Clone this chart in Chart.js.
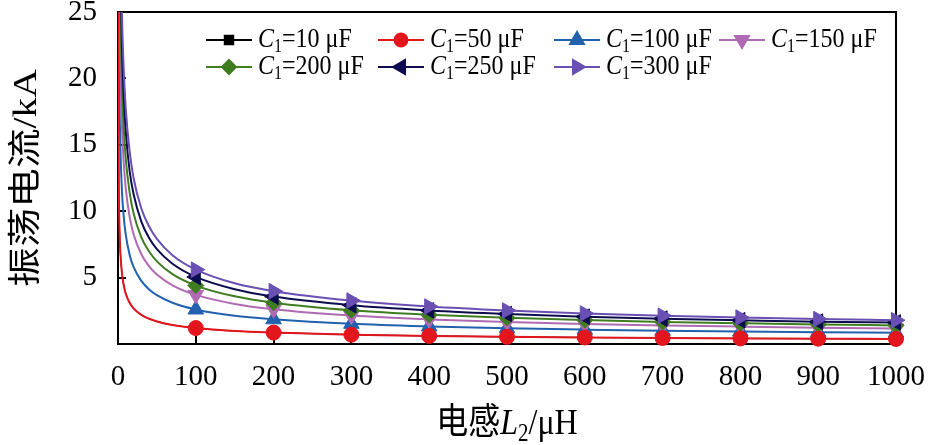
<!DOCTYPE html>
<html>
<head>
<meta charset="utf-8">
<script src="https://cdn.jsdelivr.net/npm/chart.js@4"></script>
<style>
  html, body { margin: 0; background: #fff; }
  #wrap { width: 928px; height: 445px; }
</style>
</head>
<body>
<div id="wrap"><canvas id="chart"></canvas></div>
<script>
// inductance L2 (uH) and oscillation current (kA) per capacitor C1
const inductance = [0.1, 0.3, 0.5, 1, 2, 3, 5, 7, 10, 15, 20, 30, 40, 50, 70, 100, 150, 200, 300, 400, 500, 600, 700, 800, 900, 1000];
const capacitance = [10, 50, 100, 150, 200, 250, 300];

const i10  = [37.9, 21.9, 17.0, 12.0, 8.49, 6.93, 5.37, 4.54, 3.79, 3.10, 2.68, 2.19, 1.90, 1.70, 1.43, 1.20, 0.98, 0.86, 0.70, 0.61, 0.54, 0.49, 0.45, 0.42, 0.40, 0.38];
const i50  = [37.9, 21.9, 17.0, 12.0, 8.49, 6.93, 5.37, 4.54, 3.79, 3.10, 2.68, 2.19, 1.90, 1.70, 1.43, 1.20, 0.98, 0.86, 0.70, 0.61, 0.54, 0.49, 0.45, 0.42, 0.40, 0.38];
const i100 = [82.2, 47.5, 36.8, 26.0, 18.4, 15.0, 11.6, 9.83, 8.22, 6.71, 5.81, 4.75, 4.11, 3.68, 3.11, 2.60, 2.12, 1.86, 1.52, 1.32, 1.18, 1.08, 1.00, 0.94, 0.89, 0.85];
const i150 = [117, 67.6, 52.3, 37.0, 26.2, 21.4, 16.5, 14.0, 11.7, 9.55, 8.27, 6.76, 5.85, 5.23, 4.42, 3.70, 3.02, 2.62, 2.14, 1.85, 1.65, 1.51, 1.40, 1.31, 1.23, 1.17];
const i200 = [139, 80.3, 62.2, 44.0, 31.1, 25.4, 19.7, 16.6, 13.9, 11.4, 9.84, 8.03, 6.96, 6.22, 5.26, 4.40, 3.59, 3.11, 2.54, 2.20, 1.97, 1.80, 1.66, 1.56, 1.47, 1.40];
const i250 = [160, 92.2, 71.4, 50.5, 35.7, 29.2, 22.6, 19.1, 16.0, 13.0, 11.3, 9.22, 7.98, 7.14, 6.04, 5.05, 4.12, 3.57, 2.92, 2.53, 2.26, 2.06, 1.91, 1.79, 1.68, 1.62];
const i300 = [177, 102, 79.2, 56.0, 39.6, 32.3, 25.0, 21.2, 17.7, 14.5, 12.5, 10.2, 8.85, 7.92, 6.69, 5.60, 4.57, 3.98, 3.27, 2.82, 2.52, 2.30, 2.13, 1.99, 1.88, 1.79];

const xTicks = [0, 100, 200, 300, 400, 500, 600, 700, 800, 900, 1000];
const yTicks = [5, 10, 15, 20, 25];
const markerAt = [100, 200, 300, 400, 500, 600, 700, 800, 900, 1000];

const series = [i10, i50, i100, i150, i200, i250, i300];

// styles
const colors = ['#000000', '#e3151d', '#2161ad', '#b06ab4', '#3f7d20', '#0c0c4e', '#6a50b3'];
const shapes = ['rect', 'circle', 'triangle', 'triangle', 'rectRot', 'triangle', 'triangle'];
const turns  = [0, 0, 0, 180, 0, -90, 90];
const sizes  = [7, 7.5, 9, 9, 8, 9, 9];
const widths = [1.2, 2, 2, 2, 2, 2, 2];
const orders = [9, 1, 6, 5, 4, 3, 2];

const SERIF = '"Liberation Serif", "Times New Roman", "Noto Sans CJK SC", serif';

const datasets = series.map((vals, k) => ({
  label: 'C1=' + capacitance[k] + ' \u03bcF',
  data: inductance.map((x, i) => ({ x, y: vals[i] })),
  borderColor: colors[k],
  backgroundColor: colors[k],
  borderWidth: widths[k],
  pointStyle: shapes[k],
  rotation: turns[k],
  pointRadius: c => markerAt.includes(inductance[c.dataIndex]) ? sizes[k] : 0,
  pointBorderWidth: 1,
  pointHoverRadius: 0,
  cubicInterpolationMode: 'monotone',
  order: orders[k],
  clip: { left: 0, top: 0, right: 15, bottom: 15 }
}));

// draw text pieces in a row, stretched a bit vertically like the original
function richText(ctx, parts, x, y, align, sy) {
  let w = 0;
  parts.forEach(p => { ctx.font = p[1]; w += ctx.measureText(p[0]).width; });
  let cx = align === 'center' ? -w / 2 : 0;
  ctx.save();
  ctx.translate(x, y);
  ctx.scale(1, sy);
  ctx.textAlign = 'left';
  ctx.textBaseline = 'alphabetic';
  ctx.fillStyle = '#000';
  parts.forEach(p => {
    ctx.font = p[1];
    ctx.fillText(p[0], cx, p[2]);
    cx += ctx.measureText(p[0]).width;
  });
  ctx.restore();
}

const legendCols = [229, 401, 577, 742];
const legendRows = [40, 67];

const decor = {
  id: 'decor',
  beforeDatasetsDraw(chart) {
    const { ctx, chartArea: a } = chart;
    ctx.save();
    ctx.strokeStyle = '#000';
    ctx.lineWidth = 2;
    ctx.strokeRect(a.left, a.top, a.right - a.left, a.bottom - a.top);
    ctx.restore();
  },
  afterDraw(chart) {
    const { ctx, chartArea: a } = chart;

    // legend, 4 + 3 items
    capacitance.forEach((c, k) => {
      const mx = legendCols[k % 4];
      const my = legendRows[Math.floor(k / 4)];
      ctx.save();
      ctx.strokeStyle = colors[k];
      ctx.fillStyle = colors[k];
      ctx.lineWidth = 2;
      ctx.beginPath();
      ctx.moveTo(mx - 23, my);
      ctx.lineTo(mx + 23, my);
      ctx.stroke();
      Chart.helpers.drawPoint(ctx, { pointStyle: shapes[k], rotation: turns[k], radius: sizes[k] - 1, borderWidth: 1 }, mx, my);
      ctx.restore();
      richText(ctx, [
        ['C', 'italic 24px ' + SERIF, 0],
        ['1', '16px ' + SERIF, 4],
        ['=' + c + ' \u03bcF', '24px ' + SERIF, 0]
      ], mx + 29, my + 7, 'left', 1.15);
    });

    // x title
    richText(ctx, [
      ['\u7535\u611f', '32px ' + SERIF, 0],
      ['L', 'italic 32px ' + SERIF, 0],
      ['2', '21px ' + SERIF, 6],
      ['/\u03bcH', '32px ' + SERIF, 0]
    ], (a.left + a.right) / 2, 434, 'center', 1.15);

    // y title
    ctx.save();
    ctx.translate(27, (a.top + a.bottom) / 2);
    ctx.rotate(-Math.PI / 2);
    ctx.scale(1.2, 1);
    ctx.font = '33px ' + SERIF;
    ctx.fillStyle = '#000';
    ctx.textAlign = 'center';
    ctx.textBaseline = 'middle';
    ctx.fillText('\u632f\u8361\u7535\u6d41/kA', 0, 0);
    ctx.restore();
  }
};

new Chart(document.getElementById('chart'), {
  type: 'line',
  data: { datasets },
  plugins: [decor],
  options: {
    responsive: true,
    maintainAspectRatio: false,
    animation: false,
    layout: { padding: { left: 0, right: 32, top: 12, bottom: 0 } },
    plugins: { legend: { display: false }, tooltip: { enabled: false } },
    scales: {
      x: {
        type: 'linear',
        min: 0,
        max: 1000,
        afterBuildTicks: axis => { axis.ticks = xTicks.map(v => ({ value: v })); },
        afterFit: axis => { axis.height = 101; axis.paddingLeft = 0; axis.paddingRight = 0; },
        ticks: { color: '#000', font: { family: SERIF, size: 29 }, padding: 24, maxRotation: 0, autoSkip: false, callback: v => String(v) },
        grid: { drawOnChartArea: false, drawTicks: true, tickLength: -8, color: '#000', lineWidth: 2 },
        border: { display: true, color: '#000', width: 2 }
      },
      y: {
        min: 0,
        max: 25,
        afterBuildTicks: axis => { axis.ticks = yTicks.map(v => ({ value: v })); },
        afterFit: axis => { axis.width = 118; axis.paddingTop = 0; axis.paddingBottom = 0; },
        ticks: { color: '#000', font: { family: SERIF, size: 29 }, padding: 29, callback: v => String(v) },
        grid: { drawOnChartArea: false, drawTicks: true, tickLength: -8, color: '#000', lineWidth: 2 },
        border: { display: true, color: '#000', width: 2 }
      }
    }
  }
});
</script>
</body>
</html>
